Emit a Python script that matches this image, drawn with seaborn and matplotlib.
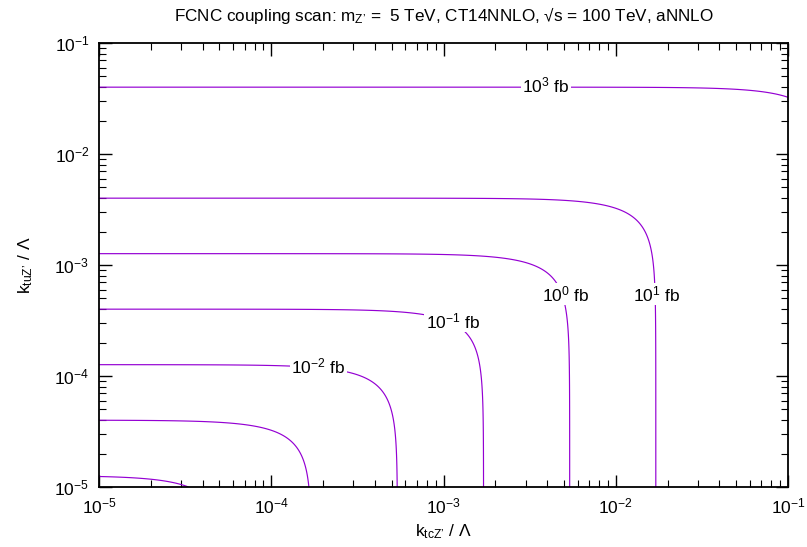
import numpy as np
import matplotlib
matplotlib.use("Agg")
import matplotlib.pyplot as plt
import seaborn as sns
from matplotlib.ticker import LogLocator, NullFormatter

# ---- data ----
levels_fb = [1e-4, 1e-3, 1e-2, 1e-1, 1e0, 1e1, 1e3]          # contour levels (fb)
label_exponents = [-2, -1, 0, 1, 3]                          # labelled levels: 10^e fb
label_spots = [(1.87e-4, 1.064e-4), (1.135e-3, 2.71e-4), (5.08e-3, 4.74e-4),
               (1.735e-2, 4.74e-4), (3.94e-3, 3.62e-2)]
sigma_tu = 6.25e5   # fb per unit (k_tuZ'/Lambda)^2, read from y-intercepts
sigma_tc = 3.43e4   # fb per unit (k_tcZ'/Lambda)^2, read from x-intercepts
x_range = [1e-5, 1e-1]
y_range = [1e-5, 1e-1]

sns.set_style("ticks")
plt.rcParams['font.family'] = ['Liberation Sans', 'DejaVu Sans']
plt.rcParams['mathtext.fontset'] = 'custom'
plt.rcParams['mathtext.rm'] = 'Liberation Sans'
plt.rcParams['mathtext.it'] = 'Liberation Sans'
plt.rcParams['mathtext.default'] = 'regular'
plt.rcParams['text.color'] = 'black'
plt.rcParams['axes.labelcolor'] = 'black'
plt.rcParams['xtick.color'] = 'black'
plt.rcParams['ytick.color'] = 'black'
plt.rcParams['xtick.labelcolor'] = 'black'
plt.rcParams['ytick.labelcolor'] = 'black'

fig = plt.figure(figsize=(8.07, 5.47), dpi=100)
ax = fig.add_axes([0.1227, 0.1097, 0.8538, 0.8117])

kx = np.logspace(np.log10(x_range[0]), np.log10(x_range[1]), 900)
ky = np.logspace(np.log10(y_range[0]), np.log10(y_range[1]), 900)
KX, KY = np.meshgrid(kx, ky)
XS = sigma_tu * KY**2 + sigma_tc * KX**2

cs = ax.contour(KX, KY, XS, levels=levels_fb, colors='#9400d3', linewidths=0.85)

ax.set_xscale('log')
ax.set_yscale('log')
ax.set_xlim(*x_range)
ax.set_ylim(*y_range)

for e, (lx, ly) in zip(label_exponents, label_spots):
    ax.text(lx, ly, r"$10^{%d}$ fb" % e, ha='center', va='baseline', fontsize=12.5,
            color='black', zorder=5,
            bbox=dict(facecolor='white', edgecolor='none', pad=1.0))

ax.xaxis.set_major_locator(LogLocator(base=10, numticks=10))
ax.yaxis.set_major_locator(LogLocator(base=10, numticks=10))
ax.xaxis.set_minor_locator(LogLocator(base=10, subs=np.arange(2, 10), numticks=20))
ax.yaxis.set_minor_locator(LogLocator(base=10, subs=np.arange(2, 10), numticks=20))
ax.xaxis.set_minor_formatter(NullFormatter())
ax.yaxis.set_minor_formatter(NullFormatter())

ax.tick_params(which='both', direction='in', top=True, right=True, color='black',
               labelcolor='black')
ax.tick_params(which='major', length=9, width=1.0, labelsize=12.5, pad=7)
ax.tick_params(which='minor', length=5, width=0.8)
for s in ax.spines.values():
    s.set_linewidth(1.3)
    s.set_color('black')

ax.set_xlabel("k$_{\\rm tcZ\u2019}$ / $\\Lambda$", fontsize=12.5, labelpad=4, color='black')
ax.set_ylabel("k$_{\\rm tuZ\u2019}$ / $\\Lambda$", fontsize=12.5, labelpad=14, color='black')
ax.set_title("FCNC coupling scan: m$_{\\rm Z\u2019}$ =  5 TeV, CT14NNLO, \u221As = 100 TeV, aNNLO",
             fontsize=12.3, pad=16, color='black')

fig.savefig("out.png", dpi=100)
